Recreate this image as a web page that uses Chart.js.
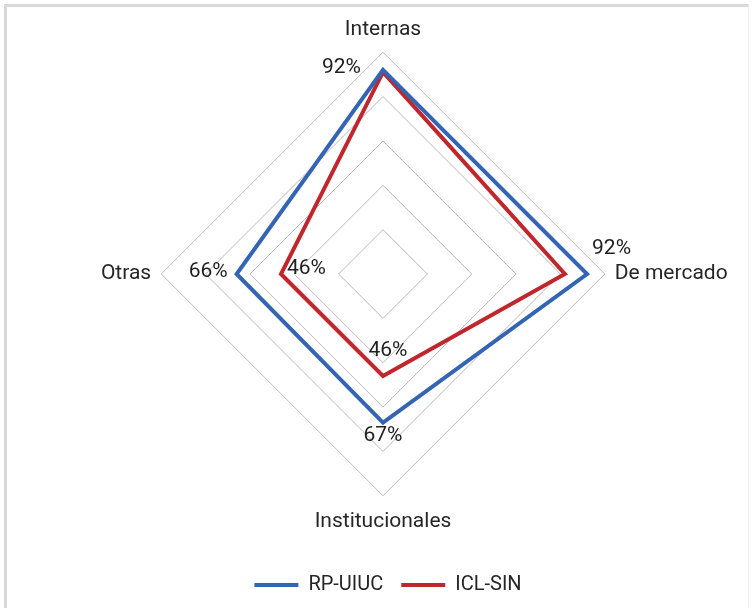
<!DOCTYPE html>
<html>
<head>
<meta charset="utf-8">
<script src="https://cdn.jsdelivr.net/npm/chart.js@4/dist/chart.umd.min.js"></script>
<style>
  html, body { margin: 0; padding: 0; background: #fff; }
  #wrap { position: relative; width: 754px; height: 608px; }
  #frame { position: absolute; left: 4px; top: 4px; width: 745px; height: 604px;
           border-top: 3px solid #d9d9d9; border-left: 3px solid #d9d9d9; border-right: 1px solid #f0f0f0;
           box-sizing: border-box; pointer-events: none; }
  canvas { position: absolute; left: 0; top: 0; }
</style>
</head>
<body>
<div id="wrap">
  <canvas id="c" width="754" height="608"></canvas>
  <div id="frame"></div>
</div>
<script>
const categories = ['Internas', 'De mercado', 'Institucionales', 'Otras'];
const seriesNames = ['RP-UIUC', 'ICL-SIN'];
const rpUiuc = [0.92, 0.92, 0.67, 0.66];
const iclSin = [0.91, 0.82, 0.46, 0.46];
const valueLabels = {
  'RP-UIUC': ['92%', '92%', '67%', '66%'],
  'ICL-SIN': [null, null, '46%', '46%']
};
const seriesColors = ['#3464b4', '#c0262c'];

// label placement: [dx, dy, align]
const labelPlacement = {
  'RP-UIUC': [[-22, -2, 'right'], [5, -25, 'left'], [0, 13, 'center'], [-9, -2, 'right']],
  'ICL-SIN': [null, null, [5, -25, 'center'], [6, -5, 'left']]
};

const FONT = 'Roboto, "Open Sans", sans-serif';

const dataLabelPlugin = {
  id: 'dataLabels',
  afterDatasetsDraw(chart) {
    const ctx = chart.ctx;
    ctx.save();
    ctx.font = '21px ' + FONT;
    ctx.fillStyle = '#1f1f1f';
    ctx.textBaseline = 'middle';
    chart.data.datasets.forEach((ds, di) => {
      const meta = chart.getDatasetMeta(di);
      const labels = valueLabels[ds.label];
      const place = labelPlacement[ds.label];
      meta.data.forEach((pt, i) => {
        if (!labels[i] || !place[i]) return;
        const [dx, dy, align] = place[i];
        ctx.textAlign = align;
        ctx.fillText(labels[i], pt.x + dx, pt.y + dy);
      });
    });
    ctx.restore();
  }
};

// nudge the legend box horizontally to centre it under the plot like the original
const legendShift = {
  id: 'legendShift',
  afterLayout(chart) {
    if (chart.legend) { chart.legend.left -= 10; chart.legend.right -= 10; }
  }
};

new Chart(document.getElementById('c'), {
  type: 'radar',
  data: {
    labels: categories,
    datasets: [
      { label: seriesNames[0], data: rpUiuc, borderColor: seriesColors[0], backgroundColor: seriesColors[0],
        borderWidth: 4, fill: false, pointRadius: 0, pointHoverRadius: 0, borderJoinStyle: 'miter' },
      { label: seriesNames[1], data: iclSin, borderColor: seriesColors[1], backgroundColor: seriesColors[1],
        borderWidth: 4, fill: false, pointRadius: 0, pointHoverRadius: 0, borderJoinStyle: 'miter' }
    ]
  },
  options: {
    responsive: false,
    animation: false,
    layout: { padding: { top: 15, left: 42, right: 0, bottom: 3 } },
    scales: {
      r: {
        min: 0, max: 1,
        ticks: { display: false, stepSize: 0.2 },
        grid: { color: '#b8b8b8', lineWidth: 1 },
        angleLines: { display: false },
        pointLabels: {
          font: (c) => ({ family: FONT, size: 21, lineHeight: c.index === 2 ? '32px' : '24px' }),
          color: '#262626', padding: 10
        }
      }
    },
    plugins: {
      tooltip: { enabled: false },
      legend: {
        position: 'bottom',
        title: { display: true, text: '', font: { size: 1 }, padding: { top: 0, bottom: 14 } },
        labels: {
          font: { family: FONT, size: 20 }, color: '#262626', boxWidth: 44, boxHeight: 4, padding: 18,
          generateLabels(chart) {
            return Chart.defaults.plugins.legend.labels.generateLabels(chart).map(it => Object.assign(it, { lineWidth: 0 }));
          }
        }
      }
    }
  },
  plugins: [dataLabelPlugin, legendShift]
});
</script>
</body>
</html>
